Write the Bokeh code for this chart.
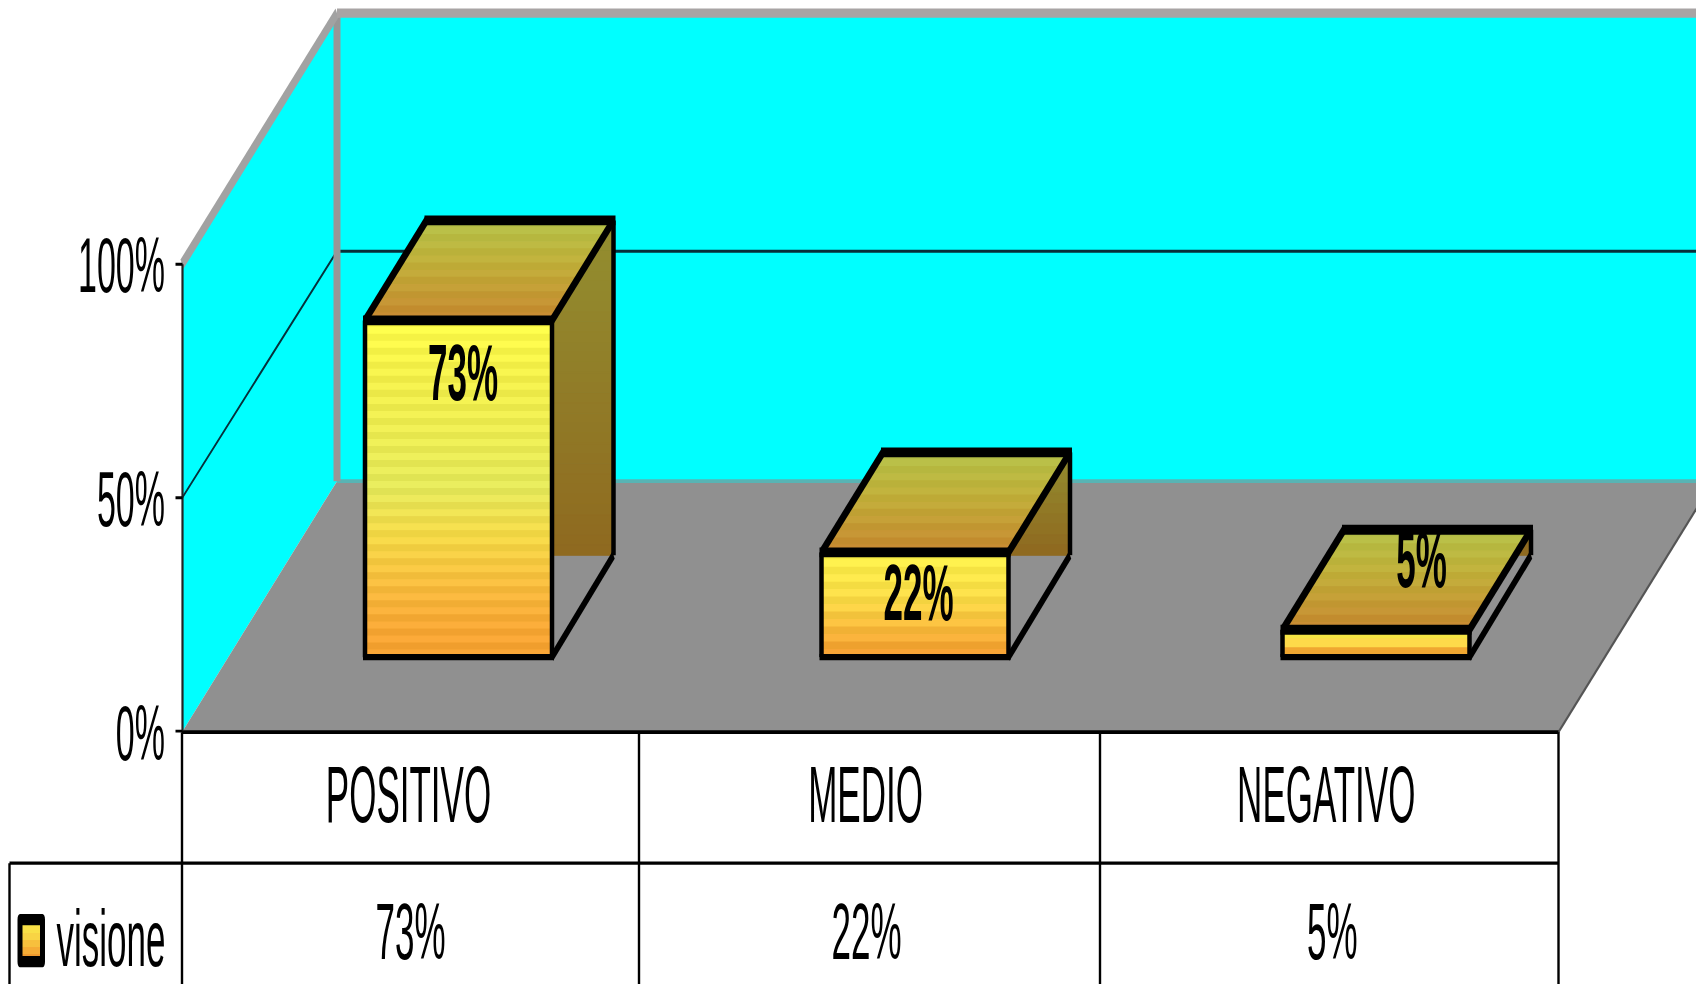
from bokeh.embed import file_html
from bokeh.resources import INLINE
from bokeh.plotting import figure
from bokeh.models import Range1d, LinearAxis, FixedTicker, PrintfTickFormatter, InlineStyleSheet
from bokeh.core.properties import value

# Survey results
categories = ["POSITIVO", "MEDIO", "NEGATIVO"]
visione = [73, 22, 5]
series_name = "visione"
y_ticks = [0, 50, 100]

# Page size. Text and strokes are tall and narrow, so the figure is laid out short and stretched
# vertically with a CSS transform. Bokeh measures the transformed box when it sizes its canvas
# (188 * STRETCH, rounded down to 430), and the canvas is then stretched once more to fill the page.
W, H = 1696, 984
FIG_H = 188
STRETCH = H / 430

# Oblique projection of the chart box (page pixels per percent / per depth)
PX_PER_PCT = 4.68
Y0_PX = 731
AXIS_X = 181.5
RIGHT_X = 1558
DEPTH_DX = 155
DEPTH_DY = 251 / PX_PER_PCT
GRID_SAG = 4 / PX_PER_PCT
TABLE_COLS = [181.5, 638.5, 1099.5, 1558]
TABLE_ROW = (Y0_PX - 862) / PX_PER_PCT
BOTTOM = (Y0_PX - H) / PX_PER_PCT

BAR_LEFT = [364.5, 821, 1282]
BAR_WIDTH = 187
BAR_DX = 61.5
BAR_TOP_DY, BAR_BASE_DY = 100 / PX_PER_PCT, 102 / PX_PER_PCT
BAR_BASE = (Y0_PX - 656) / PX_PER_PCT
BAR_LIFT, BAR_SCALE = 1.0, 0.972
LABEL_OFFSET = [(98, -51), (97, -39), (139, 71)]
HEADER_NUDGE = [-2, -4, -3]
VALUE_NUDGE = [0, -3, 3]

FONT_NAME = "Liberation Sans"
FONT = value(FONT_NAME)
FONT_SIZE = "35px"

FRONT_STOPS = [(0, "#fdfb48"), (.18, "#f2ee4a"), (.5, "#e4e85a"), (.64, "#f3d846"), (.78, "#f6bd3e"), (.9, "#f6a835"), (1, "#f5a030")]
SHORT_STOPS = [(0, "#fbf24a"), (.45, "#f8da46"), (.8, "#f6b038"), (1, "#f09a2e")]
TOP_STOPS = [(0, "#b3c34a"), (.45, "#c0b03a"), (1, "#c68a30")]
SIDE_STOPS = [(0, "#939030"), (1, "#8f6a20")]


def mix(stops, t, shade=0):
    for (t0, c0), (t1, c1) in zip(stops, stops[1:]):
        if t <= t1:
            f = (t - t0) / (t1 - t0)
            rgb = [int(c0[i:i + 2], 16) * (1 - f) + int(c1[i:i + 2], 16) * f for i in (1, 3, 5)]
            return "#%02x%02x%02x" % tuple(max(0, min(255, round(v + shade))) for v in rgb)
    return stops[-1][1]


p = figure(width=W, height=FIG_H, output_backend="svg", toolbar_location=None,
           x_range=Range1d(0, W),
           y_range=Range1d(BOTTOM, Y0_PX / PX_PER_PCT),
           min_border=0, x_axis_type=None, y_axis_type=None)
p.stylesheets = [InlineStyleSheet(css=f":host {{ transform: scaleY({STRETCH}); transform-origin: 0 0; }}")]
p.outline_line_color = None
p.grid.visible = False
p.background_fill_color = "white"
p.border_fill_color = "white"

back_x = AXIS_X + DEPTH_DX

# Cyan walls and grey floor
p.patch([AXIS_X, AXIS_X, back_x, back_x], [0, 100, 100 + DEPTH_DY, DEPTH_DY],
        fill_color="#00ffff", line_color=None)
p.patch([back_x, W, W, back_x], [DEPTH_DY, DEPTH_DY, 100 + DEPTH_DY, 100 + DEPTH_DY],
        fill_color="#00ffff", line_color=None)
p.patch([AXIS_X, back_x, RIGHT_X + DEPTH_DX, RIGHT_X],
        [0, DEPTH_DY, DEPTH_DY, 0], fill_color="#909090", line_color=None)
p.line([back_x, W], [DEPTH_DY, DEPTH_DY], line_color="#58b4b4", line_width=1.6)
p.line([RIGHT_X, RIGHT_X + DEPTH_DX], [0, DEPTH_DY], line_color="#555555", line_width=1.5)

# Grid: 50% in black, 100% in grey along the wall edges
p.line([AXIS_X, back_x, W], [50, 50 + DEPTH_DY - GRID_SAG, 50 + DEPTH_DY - GRID_SAG],
       line_color="#06303a", line_width=1.3)
p.line([back_x, back_x], [DEPTH_DY, 100 + DEPTH_DY], line_color="#979797", line_width=7)
p.line([AXIS_X, back_x], [100, 100 + DEPTH_DY], line_color="#a2a2a2", line_width=5)
p.line([back_x, W], [100 + DEPTH_DY, 100 + DEPTH_DY], line_color="#a8a4a4", line_width=4)

# Bars
for left, val in zip(BAR_LEFT, visione):
    right = left + BAR_WIDTH
    top = BAR_BASE + BAR_LIFT + val * BAR_SCALE
    back_base = BAR_BASE + BAR_BASE_DY
    back_top = top + BAR_TOP_DY
    stops = FRONT_STOPS if val > 50 else SHORT_STOPS

    # right side, filled only down to the level of the rear base edge
    n = max(int((back_top - back_base) * PX_PER_PCT / 10), 1)
    for i in range(n):
        a, b = i / n, (i + 1) / n
        ya, yb = back_top + (back_base - back_top) * a, back_top + (back_base - back_top) * b
        c = mix(SIDE_STOPS, b)
        p.patch([right, right + BAR_DX, right + BAR_DX, right],
                [ya, ya, yb, yb], fill_color=c, line_color=c, line_width=0.6)
    p.line([right, right + BAR_DX], [BAR_BASE, back_base], line_color="black", line_width=4)
    p.line([right + BAR_DX, right + BAR_DX], [back_base, back_top], line_color="black", line_width=4.5)

    # top face in stripes
    n = 14
    for i in range(n):
        a, b = i / n, (i + 1) / n
        d0, d1 = 1 - a, 1 - b
        xs = [left + BAR_DX * d0, right + BAR_DX * d0, right + BAR_DX * d1, left + BAR_DX * d1]
        ys = [top + BAR_TOP_DY * d0, top + BAR_TOP_DY * d0, top + BAR_TOP_DY * d1, top + BAR_TOP_DY * d1]
        c = mix(TOP_STOPS, b, 3 if i % 2 else -3)
        p.patch(xs, ys, fill_color=c, line_color=c, line_width=0.6)
    p.line([left, left + BAR_DX], [top, back_top], line_color="black", line_width=4.5)
    p.line([right, right + BAR_DX], [top, back_top], line_color="black", line_width=4.5)
    p.line([left + BAR_DX - 2, right + BAR_DX + 2], [back_top, back_top], line_color="black", line_width=4.3)

    # front face in stripes
    n = max(int((top - BAR_BASE) * PX_PER_PCT / 7), 3)
    for i in range(n):
        a, b = i / n, (i + 1) / n
        c = mix(stops, (a + b) / 2, 6 if i % 2 else -5)
        p.quad(left=[left], right=[right],
               top=[top + (BAR_BASE - top) * a], bottom=[top + (BAR_BASE - top) * b],
               fill_color=c, line_color=c, line_width=0.6)
    p.line([left, left], [BAR_BASE, top], line_color="black", line_width=4.5)
    p.line([right, right], [BAR_BASE, top], line_color="black", line_width=4.5)
    p.line([left - 2, right + 2], [BAR_BASE, BAR_BASE], line_color="black", line_width=2.7)
    p.line([left - 2, right + 2], [top, top], line_color="black", line_width=4.3)

# Value labels on the bars
for left, val, (dx, dy) in zip(BAR_LEFT, visione, LABEL_OFFSET):
    top = BAR_BASE + BAR_LIFT + val * BAR_SCALE
    p.text([left + dx], [top + dy / PX_PER_PCT], text=[f"{val}%"], text_font=FONT, text_font_size=FONT_SIZE,
           text_font_style="bold", text_align="center", text_baseline="middle", text_color="black")

# Data table under the chart
tbl = dict(line_color="black", line_width=2.4)
p.line([AXIS_X, RIGHT_X], [0, 0], line_color="black", line_width=1.6)
p.line([9, RIGHT_X], [TABLE_ROW, TABLE_ROW], line_color="black", line_width=1.4)
p.line([9, 9], [TABLE_ROW, BOTTOM], **tbl)
for cx in TABLE_COLS:
    p.line([cx, cx], [0, BOTTOM], **tbl)

for i, (name, val) in enumerate(zip(categories, visione)):
    cx = (TABLE_COLS[i] + TABLE_COLS[i + 1]) / 2
    p.text([cx + HEADER_NUDGE[i]], [(Y0_PX - 792) / PX_PER_PCT], text=[name], text_font=FONT, text_font_size=FONT_SIZE,
           text_align="center", text_baseline="middle", text_color="black")
    p.text([cx + VALUE_NUDGE[i]], [(Y0_PX - 929) / PX_PER_PCT], text=[f"{val}%"], text_font=FONT, text_font_size=FONT_SIZE,
           text_align="center", text_baseline="middle", text_color="black")

# Legend key and series name in the table's row header
key_top, key_bottom = (Y0_PX - 918.5) / PX_PER_PCT, (Y0_PX - 960.5) / PX_PER_PCT
for i in range(6):
    a, b = i / 6, (i + 1) / 6
    c = mix(SHORT_STOPS, b)
    p.quad(left=[20], right=[42], top=[key_top + (key_bottom - key_top) * a],
           bottom=[key_top + (key_bottom - key_top) * b], fill_color=c, line_color=c, line_width=0.6)
p.quad(left=[19.5], right=[42], top=[key_top], bottom=[key_bottom], fill_color=None,
       line_color="black", line_width=5, line_join="round")
p.text([165], [(Y0_PX - 936) / PX_PER_PCT], text=[series_name], text_font=FONT, text_font_size=FONT_SIZE,
       text_align="right", text_baseline="middle", text_color="black")

# Value axis on the front edge of the left wall
axis = LinearAxis(fixed_location=AXIS_X, ticker=FixedTicker(ticks=y_ticks),
                  formatter=PrintfTickFormatter(format="%d%%"))
axis.major_label_text_font = FONT_NAME
axis.major_label_text_font_size = "34px"
axis.major_label_text_color = "black"
axis.major_label_standoff = 10
axis.axis_line_color = "#222222"
axis.axis_line_width = 2.2
axis.major_tick_in = 0
axis.major_tick_out = 7
axis.major_tick_line_color = "black"
axis.major_tick_line_width = 1.3
axis.minor_tick_line_color = None
axis.bounds = (0, 100)
p.add_layout(axis, "left")

open("out.html", "w").write(file_html(p, INLINE))
